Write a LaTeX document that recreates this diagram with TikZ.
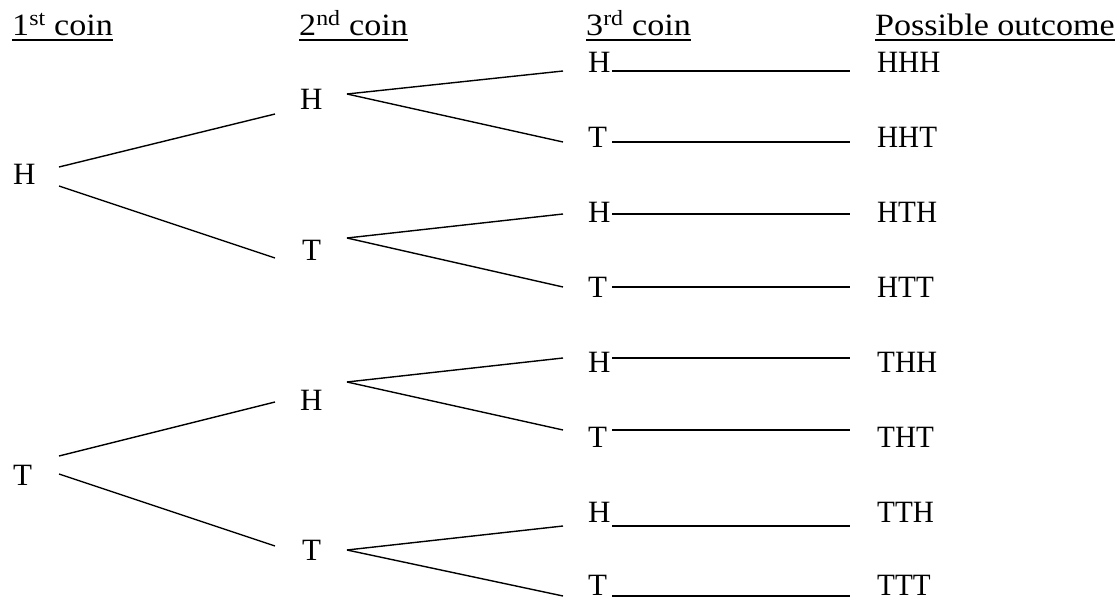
\documentclass[tikz,border=0pt]{standalone}
\usepackage{fontspec}
\setmainfont{Liberation Serif}
\newfontfamily\hdrfont[FakeStretch=1.1]{Liberation Serif}
\newfontfamily\outfont[FakeStretch=0.94]{Liberation Serif}
\begin{document}
\begin{tikzpicture}[x=1pt,y=-1pt,
  lbl/.style={anchor=base west,inner sep=0pt,font=\fontsize{31}{37}\selectfont},
  hdr/.style={lbl,font=\fontsize{31}{37}\hdrfont},
  outc/.style={lbl,font=\fontsize{31}{37}\outfont},
  br/.style={line width=1.4pt},
  ul/.style={line width=1.4pt}]
\useasboundingbox (0,0) rectangle (1120,600);
% headers
\node[hdr] (c1) at (12,35) {1\textsuperscript{st} coin};
\node[hdr] (c2) at (299,35) {2\textsuperscript{nd} coin};
\node[hdr] (c3) at (586,35) {3\textsuperscript{rd} coin};
\node[hdr] (c4) at (875,35) {Possible outcome};
\foreach \c in {c1,c2,c3,c4}
  \draw[ul] ([yshift=-5pt]\c.base west) -- ([yshift=-5pt]\c.base east);
% level 1
\node[lbl] (a) at (13,184) {H};
\node[lbl] (b) at (13,485) {T};
% level 2
\node[lbl] (aH) at (300,109) {H};
\node[lbl] (aT) at (302,260) {T};
\node[lbl] (bH) at (300,410) {H};
\node[lbl] (bT) at (302,560) {T};
% level 1 -> level 2 connectors
\coordinate (a1) at (59,167);  \coordinate (aHi) at (275,114);
\coordinate (a2) at (59,186);  \coordinate (aTi) at (275,258);
\coordinate (b1) at (59,456);  \coordinate (bHi) at (275,402);
\coordinate (b2) at (59,474);  \coordinate (bTi) at (275,546);
\draw[br] (a1) -- (aHi);
\draw[br] (a2) -- (aTi);
\draw[br] (b1) -- (bHi);
\draw[br] (b2) -- (bTi);
% level 2 out points
\coordinate (aHo) at (347,94);
\coordinate (aTo) at (347,238);
\coordinate (bHo) at (347,382);
\coordinate (bTo) at (347,550);
% level 3 and outcomes
\foreach \i/\t/\o/\base/\ly/\src in {
  1/H/HHH/72/71/aHo, 2/T/HHT/147/142/aHo,
  3/H/HTH/222/214/aTo, 4/T/HTT/297/287/aTo,
  5/H/THH/372/358/bHo, 6/T/THT/447/430/bHo,
  7/H/TTH/522/526/bTo, 8/T/TTT/595/596/bTo}{
  \node[lbl] (r\i) at (588,\base) {\t};
  \node[outc] (o\i) at (877,\base) {\o};
  \coordinate (ri\i) at (563,\ly);
  \coordinate (ls\i) at (612,\ly);
  \coordinate (le\i) at (850,\ly);
  \draw[br] (\src) -- (ri\i);
  \draw[br] (ls\i) -- (le\i);
}
\end{tikzpicture}
\end{document}
